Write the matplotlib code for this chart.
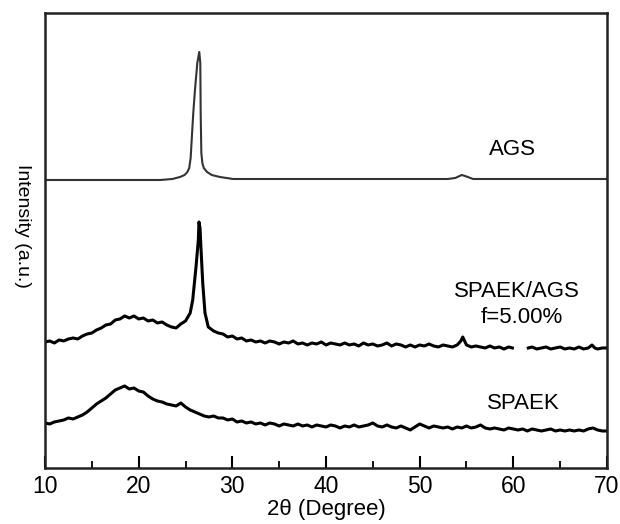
import numpy as np
import matplotlib.pyplot as plt
from matplotlib.ticker import MultipleLocator

plt.rcParams['font.family'] = ['Liberation Sans', 'DejaVu Sans']

# ---------------- AGS (smooth pattern) ---------------- #
ags_x = [10.0, 22.3, 23.6, 24.41, 24.9, 25.2, 25.4, 25.55, 25.66, 25.83,
         26.01, 26.26, 26.47, 26.58, 26.62, 26.69, 26.8, 26.95, 27.3, 27.8,
         28.68, 30.07, 53.0, 53.8, 54.5, 55.0, 55.7, 70.0]
ags_y = [288, 288, 289, 291, 293, 296, 300, 310, 328, 355,
         378, 405, 416, 405, 355, 315, 305, 300, 296, 293,
         291, 289, 289, 290, 293, 291.5, 289, 289]

# ---------------- SPAEK/AGS composite, f = 5.00% ---------------- #
mix_x = [10.0, 10.5, 11.0, 11.5, 12.0, 12.5, 13.0, 13.5, 14.0, 14.5,
         15.0, 15.5, 16.0, 16.5, 17.0, 17.5, 18.0, 18.5, 19.0, 19.5,
         20.0, 20.5, 21.0, 21.5, 22.0, 22.5, 23.0, 23.5, 24.0, 24.5,
         25.0, 25.5, 25.77, 26.12, 26.37, 26.44, 26.55, 26.65, 26.84, 27.08,
         27.43, 28.0, 28.5, 29.0, 29.5, 30.0, 30.5, 31.0, 31.5, 32.0,
         32.5, 33.0, 33.5, 34.0, 34.5, 35.0, 35.5, 36.0, 36.5, 37.0,
         37.5, 38.0, 38.5, 39.0, 39.5, 40.0, 40.5, 41.0, 41.5, 42.0,
         42.5, 43.0, 43.5, 44.0, 44.5, 45.0, 45.5, 46.0, 46.5, 47.0,
         47.5, 48.0, 48.5, 49.0, 49.5, 50.0, 50.5, 51.0, 51.5, 52.0,
         52.5, 53.0, 53.5, 54.0, 54.4, 54.6, 54.8, 55.0, 55.5, 56.0,
         56.5, 57.0, 57.5, 58.0, 58.5, 59.0, 59.5, 59.9, 60.7, 61.6,
         62.0, 62.5, 63.0, 63.5, 64.0, 64.5, 65.0, 65.5, 66.0, 66.5,
         67.0, 67.5, 68.0, 68.4, 68.7, 69.0, 69.5, 70.0]
mix_y = [126, 127, 125, 128, 127, 129, 130, 129, 132, 134,
         135, 138, 140, 143, 144, 148, 149, 152, 150, 152,
         149, 150, 147, 148, 145, 146, 143, 141, 140, 144,
         147, 155, 168, 201, 228, 246, 240, 220, 185, 155,
         141, 137, 135, 134, 131, 132, 129, 130, 127, 128,
         126, 127, 125, 127, 126, 124, 126, 125, 127, 124,
         125, 123, 125, 124, 126, 123, 125, 124, 123, 125,
         123, 124, 122, 125, 123, 124, 122, 123, 125, 122,
         124, 123, 121, 123, 121, 123, 122, 124, 122, 121,
         123, 122, 121, 123, 127, 131, 127, 123, 121, 122,
         121, 120, 122, 120, 121, 119, 121, 120, np.nan, 120,
         121, 119, 120, 121, 119, 120, 121, 119, 120, 119,
         121, 119, 120, 123, 120, 119, 120, 120]

# ---------------- SPAEK (amorphous) ---------------- #
spaek_x = list(np.arange(10.0, 70.01, 0.5))
spaek_y = [45, 44, 46, 47, 48, 50, 49, 51, 53, 56,
           60, 64, 67, 70, 74, 78, 80, 82, 79, 80,
           77, 76, 72, 69, 67, 66, 64, 63, 62, 65,
           61, 58, 56, 54, 52, 51, 52, 50, 50, 48,
           49, 46, 47, 45, 46, 44, 45, 43, 45, 44,
           42, 44, 43, 42, 44, 42, 43, 41, 43, 42,
           41, 43, 42, 40, 42, 41, 43, 41, 42, 43,
           45, 42, 41, 43, 41, 40, 42, 40, 38, 41,
           44, 42, 40, 42, 41, 40, 41, 39, 41, 40,
           42, 40, 41, 43, 40, 39, 40, 39, 38, 40,
           39, 38, 39, 37, 39, 38, 37, 38, 39, 37,
           38, 37, 38, 37, 38, 37, 39, 40, 38, 37,
           37]

labels = ['AGS', 'SPAEK/AGS', 'f=5.00%', 'SPAEK']

fig = plt.figure(figsize=(6.2, 5.24), dpi=100)
ax = fig.add_axes([0.0726, 0.1069, 0.9064, 0.8683])

ax.plot(ags_x, ags_y, color='#333333', lw=1.5)
ax.plot(mix_x, mix_y, color='black', lw=2.2)
ax.plot(spaek_x, spaek_y, color='black', lw=2.2)

ax.text(59.9, 318, labels[0], fontsize=16, ha='center', va='center')
ax.text(60.4, 176, labels[1], fontsize=16, ha='center', va='center')
ax.text(60.9, 150, labels[2], fontsize=16, ha='center', va='center')
ax.text(61.1, 64, labels[3], fontsize=16, ha='center', va='center')

ax.set_xlim(10, 70)
ax.set_ylim(0, 455)
ax.xaxis.set_major_locator(MultipleLocator(10))
ax.xaxis.set_minor_locator(MultipleLocator(5))
ax.tick_params(axis='x', which='major', direction='in', length=9, width=1.5,
               labelsize=16.5, pad=5)
ax.tick_params(axis='x', which='minor', direction='in', length=5, width=1.3)
ax.set_yticks([])
for s in ax.spines.values():
    s.set_linewidth(1.8)
    s.set_color('#222222')

fig.text(326 / 620, 1 - 509 / 524, '2θ (Degree)', fontsize=16,
         ha='center', va='center')
fig.text(22 / 620, 1 - 226 / 524, 'Intensity (a.u.)', fontsize=14,
         ha='center', va='center', rotation=270)

fig.savefig('out.png', dpi=100)
